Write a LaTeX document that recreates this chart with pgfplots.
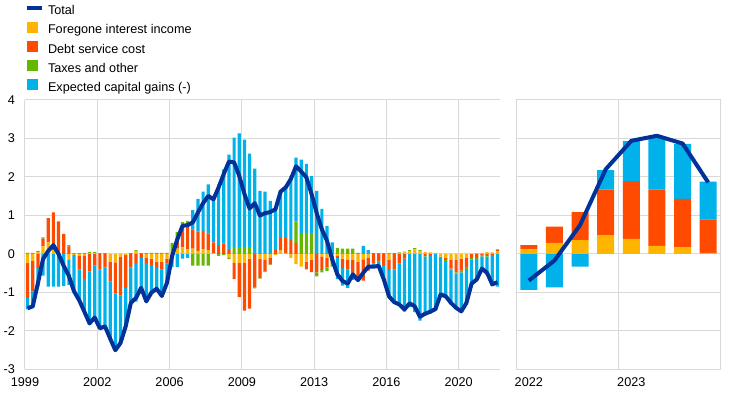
\documentclass[border=0pt]{standalone}
\usepackage{pgfplots}
\pgfplotsset{compat=1.18}
\usepackage{pgfplotstable}
\usepackage{fontspec}
\setmainfont{Liberation Sans}
\definecolor{cY}{HTML}{FFB400}
\definecolor{cO}{HTML}{FF4B00}
\definecolor{cG}{HTML}{65B800}
\definecolor{cB}{HTML}{00B1EA}
\definecolor{cT}{HTML}{003299}
\definecolor{gridc}{HTML}{D9D9D9}

% quarterly data 1999Q1 (i=0) ... 2021Q4 (i=91)
% Y foregone interest income, O debt service cost, G taxes and other, B expected capital gains, T total
\pgfplotstableread{
i Y O G B T
0 -0.24 -0.90 0.03 -0.30 -1.41
1 -0.18 -0.80 0.03 -0.41 -1.36
2 0.05 -0.36 0.03 -0.48 -0.76
3 0.20 0.20 0.03 -0.56 -0.13
4 0.30 0.63 0.00 -0.85 0.08
5 0.10 0.98 0.00 -0.85 0.23
6 0.02 0.83 -0.02 -0.83 0.00
7 0.00 0.52 0.00 -0.83 -0.31
8 -0.14 0.20 0.03 -0.66 -0.57
9 -0.02 0.00 0.02 -0.97 -0.97
10 -0.05 -0.35 0.02 -0.82 -1.20
11 -0.05 -0.60 0.02 -0.87 -1.50
12 0.02 -0.45 0.03 -1.40 -1.80
13 0.03 -0.30 0.02 -1.40 -1.65
14 0.00 -0.40 0.02 -1.55 -1.93
15 0.00 -0.35 0.02 -1.55 -1.88
16 -0.20 -0.52 0.00 -1.48 -2.20
17 -0.22 -0.80 0.00 -1.48 -2.50
18 -0.08 -1.00 0.00 -1.23 -2.31
19 -0.03 -0.85 0.00 -1.00 -1.88
20 0.00 -0.35 0.02 -0.94 -1.27
21 0.07 -0.23 0.03 -1.01 -1.14
22 0.00 -0.10 0.02 -0.80 -0.88
23 -0.10 -0.14 0.02 -1.01 -1.23
24 -0.12 -0.17 0.03 -0.74 -1.00
25 -0.20 -0.14 0.03 -0.59 -0.90
26 -0.20 -0.20 0.03 -0.72 -1.09
27 -0.12 -0.13 0.03 -0.53 -0.75
28 0.02 0.05 0.22 -0.34 -0.05
29 0.14 0.20 0.23 -0.34 0.38
30 0.17 0.56 0.10 -0.12 0.73
31 0.12 0.63 0.11 -0.10 0.75
32 0.14 0.50 -0.30 0.50 0.82
33 0.08 0.50 -0.30 0.85 1.08
34 0.12 0.48 -0.30 1.02 1.32
35 0.10 0.43 -0.30 1.28 1.51
36 0.02 0.28 0.00 1.10 1.42
37 0.00 0.23 -0.05 1.57 1.73
38 0.00 0.27 -0.03 1.93 2.08
39 -0.10 0.11 -0.03 2.47 2.40
40 -0.23 -0.42 0.18 2.84 2.38
41 -0.23 -0.89 0.18 2.95 2.03
42 -0.23 -1.24 0.18 2.79 1.56
43 -0.12 -1.30 0.18 2.43 1.18
44 0.00 -0.87 -0.02 2.22 1.32
45 -0.12 -0.50 -0.02 1.64 1.00
46 -0.15 -0.30 -0.02 1.62 1.06
47 -0.10 -0.17 -0.01 1.38 1.09
48 -0.03 0.10 0.00 1.12 1.16
49 0.10 0.31 0.00 1.23 1.62
50 0.03 0.38 0.00 1.32 1.73
51 -0.10 0.36 0.00 1.67 1.95
52 -0.26 0.28 0.56 1.66 2.28
53 -0.33 0.00 0.54 1.91 2.14
54 -0.20 -0.20 0.54 1.80 1.99
55 -0.15 -0.32 0.54 1.48 1.56
56 0.00 -0.48 -0.10 1.64 1.06
57 -0.06 -0.35 -0.07 1.17 0.64
58 -0.10 -0.25 -0.09 0.73 0.34
59 -0.05 -0.20 -0.08 0.30 -0.14
60 -0.05 -0.05 0.16 -0.55 -0.53
61 -0.12 -0.25 0.14 -0.45 -0.70
62 -0.15 -0.25 0.14 -0.48 -0.77
63 -0.15 -0.38 0.14 -0.14 -0.53
64 -0.20 -0.50 0.00 0.03 -0.68
65 -0.14 -0.55 0.00 0.21 -0.49
66 -0.10 -0.33 0.00 0.10 -0.33
67 0.00 -0.25 0.02 -0.10 -0.33
68 0.00 -0.20 0.02 -0.13 -0.31
69 0.00 -0.28 0.02 -0.40 -0.66
70 -0.15 -0.26 0.02 -0.71 -1.10
71 0.00 -0.40 0.02 -0.87 -1.25
72 0.02 -0.25 0.02 -1.10 -1.31
73 0.04 -0.12 0.02 -1.38 -1.44
74 0.08 0.00 0.02 -1.38 -1.28
75 0.12 0.00 0.03 -1.51 -1.36
76 0.08 0.00 0.02 -1.73 -1.63
77 0.05 -0.05 -0.02 -1.53 -1.55
78 0.04 -0.05 0.00 -1.49 -1.50
79 0.03 0.00 0.00 -1.46 -1.43
80 -0.07 0.00 -0.03 -0.95 -1.05
81 -0.10 -0.05 -0.03 -0.92 -1.10
82 -0.15 -0.23 -0.02 -0.87 -1.27
83 -0.15 -0.33 -0.03 -0.89 -1.40
84 -0.12 -0.31 -0.05 -1.01 -1.49
85 -0.10 -0.24 -0.05 -0.88 -1.27
86 0.00 -0.11 -0.03 -0.63 -0.77
87 0.02 -0.10 -0.03 -0.53 -0.66
88 0.03 -0.04 -0.02 -0.35 -0.38
89 0.05 -0.05 -0.02 -0.47 -0.49
90 0.04 -0.02 0.00 -0.81 -0.79
91 0.07 0.05 0.00 -0.85 -0.73
}\datL

% quarterly projections 2022Q1 (j=0) ... 2023Q4 (j=7)
\pgfplotstableread{
i Y O G B T
0 0.12 0.11 0 -0.93 -0.69
1 0.29 0.42 0 -0.87 -0.17
2 0.36 0.73 0 -0.33 0.75
3 0.49 1.18 0 0.51 2.20
4 0.39 1.50 0 1.04 2.94
5 0.21 1.46 0 1.38 3.07
6 0.18 1.25 0 1.43 2.87
7 0.03 0.87 0 0.98 1.86
}\datR

\pgfplotsset{
  base/.style={
    scale only axis, height=202.125pt,
    ymin=-3, ymax=4, ytick={-3,...,4},
    major tick length=0pt,
    tick style={draw=none},
    grid style={gridc, line width=0.75pt},
    axis line style={gridc, line width=0.75pt},
    ticklabel style={font=\fontsize{9.5}{11}\selectfont, text=black},
    /pgf/number format/assume math mode=true,
    xticklabel style={yshift=-2.6pt},
    yticklabel style={xshift=-4pt},
  },
  leftax/.style={base, width=356.25pt, xmin=-0.5, xmax=91.5,
    at={(18.75pt,19.125pt)}, anchor=south west},
  rightax/.style={base, width=153.75pt, xmin=-0.5, xmax=7.5,
    at={(387pt,19.125pt)}, anchor=south west},
}

\begin{document}
\begin{tikzpicture}
\useasboundingbox (0,0) rectangle (558pt,296.25pt);

% ---------- left panel: bars (positive and negative values stack separately) ----------
\begin{axis}[leftax,
  axis x line*=bottom, axis y line*=left,
  xtick={-0.5,13.5,27.5,41.5,55.5,69.5,83.5},
  xticklabels={1999,2002,2006,2009,2013,2016,2020},
  xmajorgrids, ymajorgrids,
  ybar stacked, bar width=0.62]
\addplot[fill=cY, draw=none, forget plot] table[x=i, y=Y] {\datL};
\addplot[fill=cO, draw=none, forget plot] table[x=i, y=O] {\datL};
\addplot[fill=cG, draw=none, forget plot] table[x=i, y=G] {\datL};
\addplot[fill=cB, draw=none, forget plot] table[x=i, y=B] {\datL};
\draw[gridc, line width=0.75pt] (axis cs:-0.5,0) -- (axis cs:91.5,0);
\end{axis}

% ---------- left panel: total line + legend ----------
\begin{axis}[leftax, hide axis,
  legend style={at={(0,1.352)}, anchor=north west, draw=none, fill=none,
    inner sep=0pt, outer sep=0pt, row sep=3.4pt,
    font=\fontsize{9.5}{11}\selectfont,
    nodes={inner sep=0pt, text height=7pt, text depth=2pt},
    /tikz/every odd column/.append style={column sep=3pt}},
  legend cell align=left]
\addplot[cT, line width=3pt, line join=round,
  legend image code/.code={\draw[cT, line width=3pt] (0pt,2.6pt) -- (11.25pt,2.6pt);}]
  table[x=i, y=T] {\datL};
\addlegendentry{Total}
\addlegendimage{legend image code/.code={\fill[cY] (0pt,-1.15pt) rectangle (7.5pt,6.35pt);}}
\addlegendentry{Foregone interest income}
\addlegendimage{legend image code/.code={\fill[cO] (0pt,-1.15pt) rectangle (7.5pt,6.35pt);}}
\addlegendentry{Debt service cost}
\addlegendimage{legend image code/.code={\fill[cG] (0pt,-1.15pt) rectangle (7.5pt,6.35pt);}}
\addlegendentry{Taxes and other}
\addlegendimage{legend image code/.code={\fill[cB] (0pt,-1.15pt) rectangle (7.5pt,6.35pt);}}
\addlegendentry{Expected capital gains (-)}
\end{axis}

% ---------- right panel: bars ----------
\begin{axis}[rightax,
  xtick={0,4}, xticklabels={2022,2023},
  yticklabels={},
  ymajorgrids,
  extra x ticks={3.5}, extra x tick labels={},
  extra x tick style={grid=major},
  ybar stacked, bar width=0.66]
\addplot[fill=cY, draw=none, forget plot] table[x=i, y=Y] {\datR};
\addplot[fill=cO, draw=none, forget plot] table[x=i, y=O] {\datR};
\addplot[fill=cG, draw=none, forget plot] table[x=i, y=G] {\datR};
\addplot[fill=cB, draw=none, forget plot] table[x=i, y=B] {\datR};
\draw[gridc, line width=0.75pt] (axis cs:-0.5,0) -- (axis cs:7.5,0);
\end{axis}

% ---------- right panel: total line ----------
\begin{axis}[rightax, hide axis]
\addplot[cT, line width=3pt, line join=round] table[x=i, y=T] {\datR};
\end{axis}
\end{tikzpicture}
\end{document}
